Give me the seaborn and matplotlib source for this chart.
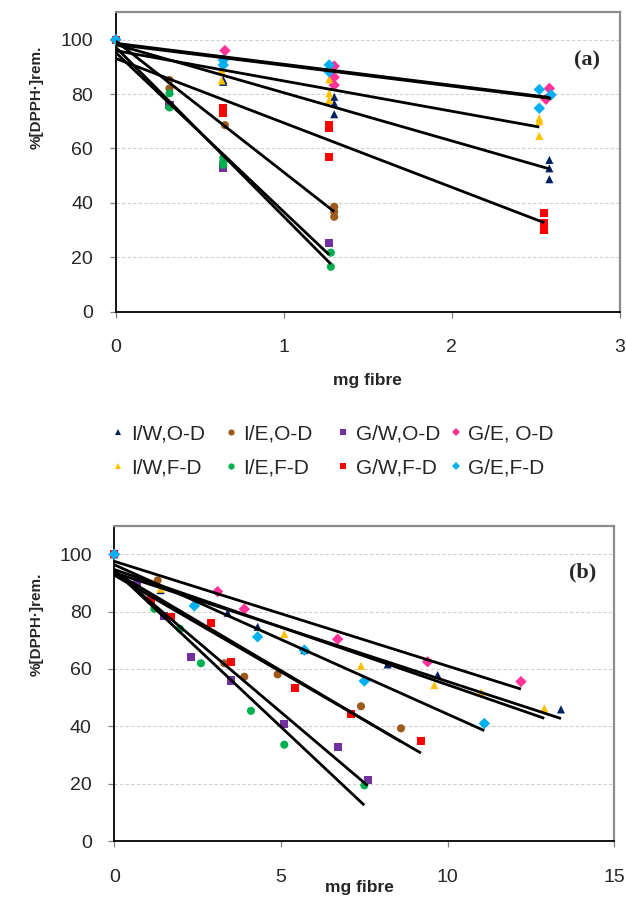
import numpy as np
import pandas as pd
import matplotlib
matplotlib.use("Agg")
import matplotlib.pyplot as plt
from matplotlib.lines import Line2D
import seaborn as sns

# ---- series (legend order) ----
SERIES = ["I/W,O-D", "I/E,O-D", "G/W,O-D", "G/E, O-D",
          "I/W,F-D", "I/E,F-D", "G/W,F-D", "G/E,F-D"]
COLORS = ["#002060", "#9E5A1A", "#7030A0", "#FF3399",
          "#FFC000", "#00B050", "#FF0000", "#00B0F0"]
MARKERS = ["^", "o", "s", "D", "^", "o", "s", "D"]

# ---- panel (a): mg fibre vs %[DPPH.] remaining ----
a_iw_od_x = [0, 0.64, 0.64, 1.30, 1.30, 1.30, 2.58, 2.58, 2.58]
a_iw_od_y = [100, 85.2, 84.5, 79.0, 76.6, 72.6, 55.8, 52.7, 48.7]
a_ie_od_x = [0, 0.32, 0.32, 0.65, 1.30, 1.30, 1.30]
a_ie_od_y = [100, 85.2, 82.1, 68.6, 38.6, 36.8, 34.9]
a_gw_od_x = [0, 0.32, 0.64, 0.64, 1.27]
a_gw_od_y = [100, 76.0, 54.0, 53.0, 25.4]
a_ge_od_x = [0, 0.65, 1.30, 1.30, 1.30, 2.58, 2.56]
a_ge_od_y = [100, 96.0, 90.3, 86.2, 83.3, 82.1, 78.1]
a_iw_fd_x = [0, 0.63, 0.63, 1.27, 1.27, 1.27, 2.52, 2.52, 2.52]
a_iw_fd_y = [100, 88.9, 85.0, 85.4, 80.3, 77.8, 71.1, 70.0, 64.6]
a_ie_fd_x = [0, 0.32, 0.32, 0.64, 0.64, 0.64, 1.28, 1.28]
a_ie_fd_y = [100, 80.3, 75.1, 56.5, 55.0, 54.0, 21.7, 16.5]
a_gw_fd_x = [0, 0.64, 0.64, 0.64, 1.27, 1.27, 1.27, 2.55, 2.55, 2.55]
a_gw_fd_y = [100, 75.0, 74.0, 73.0, 68.6, 67.5, 57.0, 36.4, 32.7, 30.0]
a_ge_fd_x = [0, 0.64, 0.64, 1.27, 1.27, 2.52, 2.59, 2.52]
a_ge_fd_y = [100, 92.5, 90.7, 90.7, 88.2, 81.7, 79.7, 74.8]

# ---- panel (b) ----
b_iw_od_x = [0, 1.39, 3.4, 4.3, 5.7, 8.2, 9.7, 13.4]
b_iw_od_y = [100, 87.5, 79.6, 74.7, 66.6, 61.6, 57.9, 45.9]
b_ie_od_x = [0, 1.3, 3.3, 3.9, 4.9, 7.4, 8.6]
b_ie_od_y = [100, 90.9, 62.0, 57.3, 58.1, 47.0, 39.3]
b_gw_od_x = [0, 0.69, 1.5, 2.3, 3.5, 5.1, 6.7, 7.6]
b_gw_od_y = [100, 89.9, 78.5, 64.3, 56.0, 40.8, 32.7, 21.3]
b_ge_od_x = [0, 3.1, 3.9, 6.7, 9.4, 12.2]
b_ge_od_y = [100, 87.0, 80.9, 70.4, 62.5, 55.6]
b_iw_fd_x = [0, 1.39, 2.4, 5.1, 7.4, 9.6, 11.0, 12.9]
b_iw_fd_y = [100, 88.0, 83.5, 72.2, 61.1, 54.4, 51.8, 46.3]
b_ie_fd_x = [0, 1.2, 1.97, 2.6, 4.1, 5.1, 7.5]
b_ie_fd_y = [100, 81.0, 74.0, 62.0, 45.4, 33.6, 19.4]
b_gw_fd_x = [0, 1.09, 1.69, 2.9, 3.5, 5.42, 7.1, 9.2]
b_gw_fd_y = [100, 84.0, 78.0, 76.0, 62.5, 53.5, 44.4, 35.0]
b_ge_fd_x = [0, 2.4, 4.3, 5.7, 7.5, 11.1]
b_ge_fd_y = [100, 82.0, 71.2, 66.6, 55.8, 41.0]

A_DATA = [(a_iw_od_x, a_iw_od_y), (a_ie_od_x, a_ie_od_y), (a_gw_od_x, a_gw_od_y),
          (a_ge_od_x, a_ge_od_y), (a_iw_fd_x, a_iw_fd_y), (a_ie_fd_x, a_ie_fd_y),
          (a_gw_fd_x, a_gw_fd_y), (a_ge_fd_x, a_ge_fd_y)]
B_DATA = [(b_iw_od_x, b_iw_od_y), (b_ie_od_x, b_ie_od_y), (b_gw_od_x, b_gw_od_y),
          (b_ge_od_x, b_ge_od_y), (b_iw_fd_x, b_iw_fd_y), (b_ie_fd_x, b_ie_fd_y),
          (b_gw_fd_x, b_gw_fd_y), (b_ge_fd_x, b_ge_fd_y)]

sns.set_style("white")
plt.rcParams["font.family"] = ["Liberation Sans", "DejaVu Sans"]

YLABEL = "%[DPPH\u00b7]rem."
XLABEL = "mg fibre"


def to_frame(data):
    rows = []
    for name, (xs, ys) in zip(SERIES, data):
        for x, y in zip(xs, ys):
            rows.append({"series": name, "mg": x, "rem": y})
    return pd.DataFrame(rows)


def draw_panel(ax, data, xmax, xstep, tag, tag_xy, ylab_y, xlab_xy):
    df = to_frame(data)
    sns.scatterplot(data=df, x="mg", y="rem", hue="series", style="series",
                    hue_order=SERIES, style_order=SERIES,
                    palette=dict(zip(SERIES, COLORS)),
                    markers=dict(zip(SERIES, MARKERS)),
                    s=34, linewidth=0, legend=False, ax=ax,
                    clip_on=False, zorder=3)
    # linear trendlines over each series' own x range
    for xs, ys in data:
        sns.regplot(x=np.array(xs, float), y=np.array(ys, float), ax=ax,
                    scatter=False, ci=None, truncate=True, color="black",
                    line_kws={"lw": 2.0, "zorder": 4, "solid_capstyle": "butt"})

    ax.set_xlim(0, xmax)
    ax.set_ylim(0, 110)
    ax.set_xticks(np.arange(0, xmax + 0.1, xstep))
    ax.set_yticks(np.arange(0, 101, 20))
    ax.yaxis.grid(True, color="#cfcfcf", linestyle=(0, (3, 2)), lw=0.8)
    ax.set_axisbelow(True)

    for side in ["left", "bottom"]:
        ax.spines[side].set_color("black")
        ax.spines[side].set_linewidth(1.3)
    for side in ["top", "right"]:
        ax.spines[side].set_color("#8c8c8c")
        ax.spines[side].set_linewidth(1.6)

    ax.tick_params(axis="y", length=4.3, width=0.9, color="#808080",
                   pad=12, labelsize=14, direction="out", left=True)
    ax.tick_params(axis="x", length=4, width=0.9, color="#808080",
                   pad=16, labelsize=14, direction="out", bottom=True)

    ax.set_ylabel(YLABEL, fontsize=11, fontweight="bold")
    ax.yaxis.set_label_coords(-0.142, ylab_y)
    ax.set_xlabel(XLABEL, fontsize=12.5, fontweight="bold")
    ax.xaxis.set_label_coords(*xlab_xy)

    ax.text(tag_xy[0], tag_xy[1], tag, transform=ax.transAxes,
            ha="center", va="center", fontsize=16, fontweight="bold",
            family=["Liberation Serif", "DejaVu Serif"])


fig = plt.figure(figsize=(6.26, 8.99), dpi=100)
ax_a = fig.add_axes([0.1848, 0.6533, 0.8056, 0.3328])
ax_b = fig.add_axes([0.1826, 0.0645, 0.7987, 0.3508])

draw_panel(ax_a, A_DATA, 3, 1, "(a)", (0.9346, 0.841), 0.718, (0.5, -0.205))
draw_panel(ax_b, B_DATA, 15, 5, "(b)", (0.937, 0.853), 0.688, (0.49, -0.124))

# legend: four columns of two rows, fixed column positions like the original
W, H = 626, 899
col_x = [118.3, 231.0, 343.3, 456.0]
fs = 15
for c, cx in enumerate(col_x):
    idx = [c, c + 4]
    handles = [Line2D([], [], ls="none", marker=MARKERS[i], color=COLORS[i],
                      markersize=4.5, markeredgewidth=0) for i in idx]
    labels = [SERIES[i] for i in idx]
    x_left = cx - 0.5 * fs * 1.389 / 2
    fig.legend(handles, labels, loc="center left",
               bbox_to_anchor=(x_left / W, 1 - 450.85 / H),
               frameon=False, fontsize=fs, handlelength=0.5,
               handletextpad=0.35, labelspacing=0.72,
               borderpad=0, borderaxespad=0)

fig.savefig("out.png", dpi=100, facecolor="white")
